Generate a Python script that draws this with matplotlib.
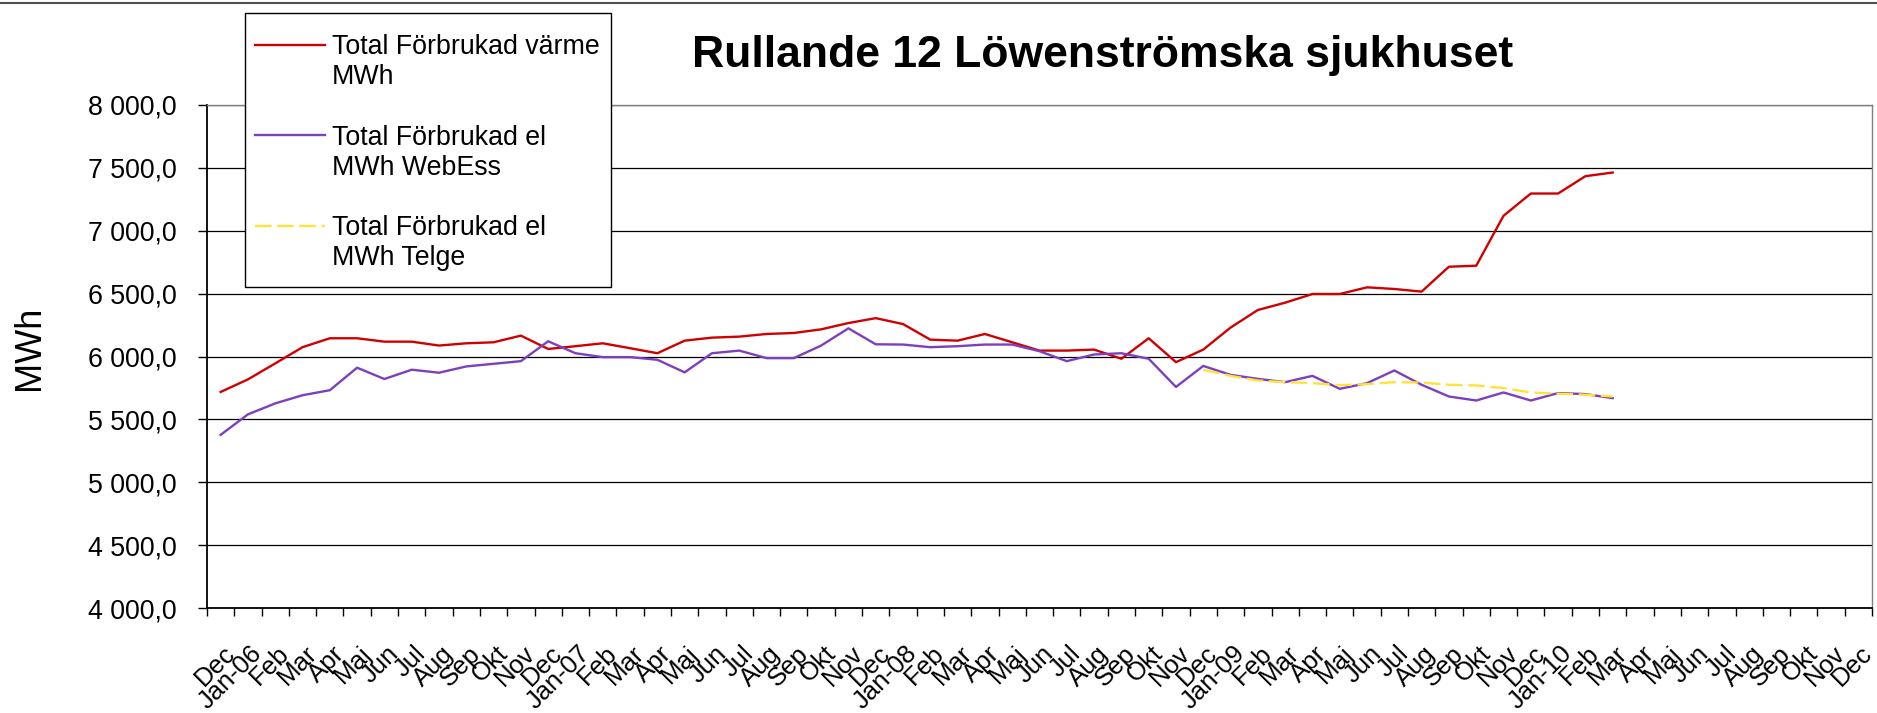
import matplotlib
matplotlib.use("Agg")
import matplotlib.pyplot as plt
import matplotlib.transforms as mtransforms
import numpy as np
from matplotlib.lines import Line2D
from matplotlib.patches import Rectangle
from matplotlib.legend_handler import HandlerLine2D
from matplotlib.ticker import FuncFormatter

plt.rcParams['font.family'] = ['Liberation Sans', 'DejaVu Sans']

# ---------------- data ----------------
months = ["Dec", "Jan-06", "Feb", "Mar", "Apr", "Maj", "Jun", "Jul", "Aug", "Sep", "Okt", "Nov",
          "Dec", "Jan-07", "Feb", "Mar", "Apr", "Maj", "Jun", "Jul", "Aug", "Sep", "Okt", "Nov",
          "Dec", "Jan-08", "Feb", "Mar", "Apr", "Maj", "Jun", "Jul", "Aug", "Sep", "Okt", "Nov",
          "Dec", "Jan-09", "Feb", "Mar", "Apr", "Maj", "Jun", "Jul", "Aug", "Sep", "Okt", "Nov",
          "Dec", "Jan-10", "Feb", "Mar", "Apr", "Maj", "Jun", "Jul", "Aug", "Sep", "Okt", "Nov",
          "Dec"]

varme_mwh = [5718, 5818, 5945, 6074, 6145, 6145, 6118, 6118, 6087, 6105, 6113, 6166,
             6060, 6082, 6105, 6066, 6026, 6126, 6150, 6158, 6179, 6187, 6216, 6266,
             6305, 6258, 6134, 6126, 6179, 6113, 6047, 6047, 6055, 5982, 6145, 5955,
             6055, 6230, 6370, 6428, 6497, 6497, 6550, 6537, 6516, 6714, 6722, 7119,
             7296, 7296, 7434, 7463]

el_webess_mwh = [5377, 5540, 5627, 5692, 5732, 5911, 5821, 5895, 5871, 5921, 5942, 5963,
                 6121, 6026, 5995, 5995, 5974, 5874, 6026, 6047, 5987, 5987, 6087, 6224,
                 6097, 6095, 6074, 6082, 6095, 6095, 6042, 5963, 6016, 6026, 5982, 5758,
                 5925, 5854, 5822, 5796, 5846, 5743, 5788, 5889, 5775, 5682, 5650, 5714,
                 5650, 5709, 5701, 5669]

telge_start_index = 36  # first month with Telge data (Dec-08)
el_telge_mwh = [5894, 5846, 5809, 5796, 5788, 5772, 5780, 5796, 5793, 5775, 5770, 5749,
                5714, 5704, 5696, 5682]

series_labels = ["Total Förbrukad värme\nMWh",
                 "Total Förbrukad el\nMWh WebEss",
                 "Total Förbrukad el\nMWh Telge"]
title_text = "Rullande 12 Löwenströmska sjukhuset"
y_label = "MWh"
y_min, y_max, y_step = 4000, 8000, 500

# ---------------- figure ----------------
W, H = 1877, 713
fig = plt.figure(figsize=(W / 100, H / 100), dpi=100)


def fx(px):
    return px / W


def fy(py):
    return 1 - py / H


ax = fig.add_axes([fx(207), fy(608), fx(1872) - fx(207), fy(105) - fy(608)])

x_v = np.arange(len(varme_mwh))
x_w = np.arange(len(el_webess_mwh))
x_t = np.arange(telge_start_index, telge_start_index + len(el_telge_mwh))

l1, = ax.plot(x_v, varme_mwh, color='#D00000', lw=1.7)
l2, = ax.plot(x_w, el_webess_mwh, color='#7D3FBE', lw=1.7)
l3, = ax.plot(x_t, el_telge_mwh, color='#FFE33A', lw=1.7, dashes=(7, 2.4))

ax.set_xlim(-0.5, len(months) - 0.5)
ax.set_ylim(y_min, y_max)
ax.set_yticks(np.arange(y_min, y_max + 1, y_step))
ax.yaxis.set_major_formatter(FuncFormatter(
    lambda v, p: f"{v:,.1f}".replace(",", " ").replace(".", ",")))

ax.set_axisbelow(True)
ax.yaxis.grid(True, color='black', lw=0.9)

ax.set_xticks(np.arange(len(months)))
ax.set_xticklabels(months, rotation=45, ha='right', va='top',
                   rotation_mode='anchor', fontsize=18.5)
ax.set_xticks(np.arange(-0.5, len(months)), minor=True)
ax.tick_params(axis='x', which='major', length=0, pad=24)
ax.tick_params(axis='x', which='minor', length=5.5, width=1.0, color='black',
               direction='out')
ax.tick_params(axis='y', which='major', length=6.8, width=1.0, color='black',
               direction='out', pad=14.8, labelsize=19.3)

offset = mtransforms.ScaledTranslation(2 / 100, 0, fig.dpi_scale_trans)
for lbl in ax.get_xticklabels():
    lbl.set_transform(lbl.get_transform() + offset)

for side in ('top', 'right'):
    ax.spines[side].set_color('#808080')
    ax.spines[side].set_linewidth(1.0)
for side in ('left', 'bottom'):
    ax.spines[side].set_color('black')
    ax.spines[side].set_linewidth(1.3)

ax.set_ylabel(y_label, fontsize=26)
ax.yaxis.set_label_coords((29 - 207) / 1665, (608 - 348) / 503)
ax.yaxis.label.set_va('center')

ax.set_title(title_text, loc='left', x=(692 - 207) / 1665, y=(608 - 66.7) / 503,
             pad=0, va='baseline', fontsize=32, fontweight='bold')


class TopLineHandler(HandlerLine2D):
    def create_artists(self, legend, orig_handle, xdescent, ydescent, width,
                       height, fontsize, trans):
        arts = super().create_artists(legend, orig_handle, xdescent, ydescent,
                                      width, height, fontsize, trans)
        for a in arts:
            a.set_ydata([v + 0.66 * fontsize for v in a.get_ydata()])
        return arts


# legend frame (white box drawn over the gridlines, under the legend entries)
frame = Rectangle((fx(245), fy(286.7)), fx(611) - fx(245), fy(12.7) - fy(286.7),
                  transform=fig.transFigure, facecolor='white', edgecolor='black',
                  lw=1.0, zorder=4.5, clip_on=False)
ax.add_artist(frame)

leg = ax.legend([l1, l2, l3], series_labels, loc='upper left',
                bbox_to_anchor=(fx(255), fy(34.5)), bbox_transform=fig.transFigure,
                frameon=False, fontsize=19.3, handlelength=2.6, handletextpad=0.28,
                borderpad=0, labelspacing=1.27, borderaxespad=0,
                handler_map={Line2D: TopLineHandler()})
leg.set_zorder(5)
for t in leg.get_texts():
    t.set_linespacing(1.2)

fig.add_artist(Line2D([0, 1], [fy(3), fy(3)], transform=fig.transFigure,
                      color='#505050', lw=1.5))

fig.savefig("out.png", dpi=100)
